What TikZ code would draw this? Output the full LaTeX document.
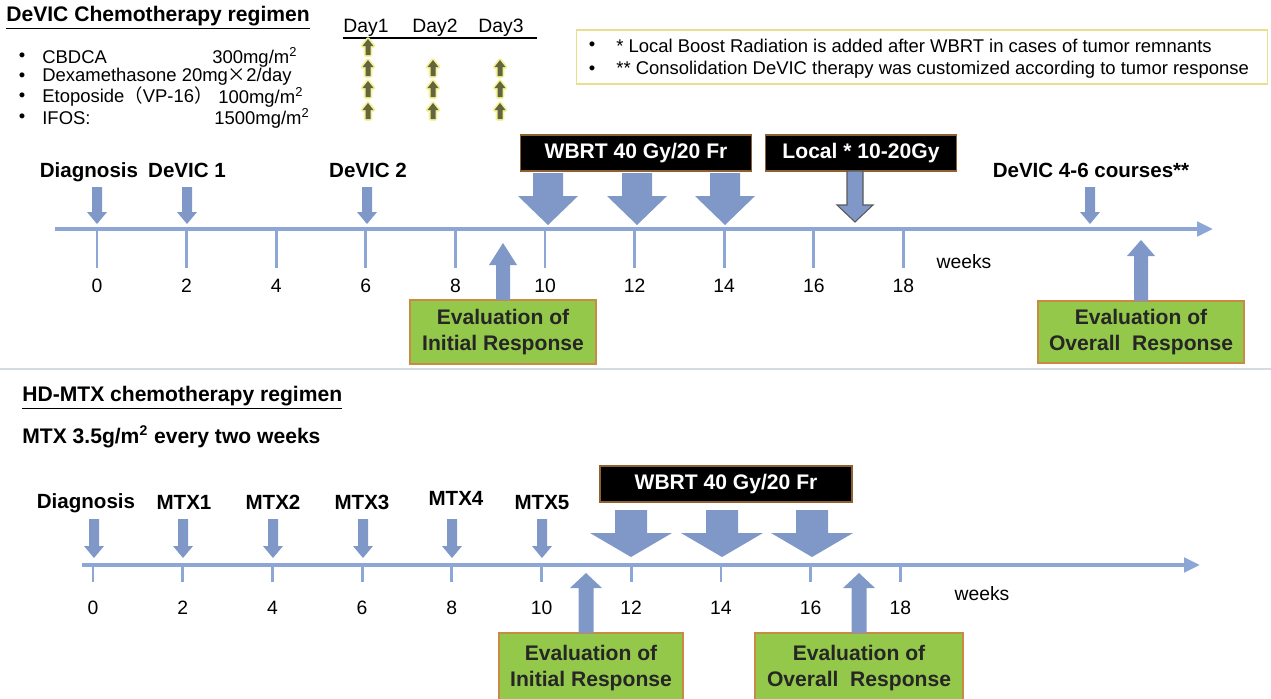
\documentclass[tikz,border=0pt]{standalone}
\usepackage{fontspec}
\setmainfont{Liberation Sans}
\newfontfamily\cjk{Noto Sans CJK SC}
\usetikzlibrary{arrows.meta}
\definecolor{ArrowBlue}{HTML}{7F98C8}
\definecolor{AxisBlue}{HTML}{8CA6D6}
\definecolor{EvalGreen}{HTML}{93C84A}
\definecolor{EvalEdge}{HTML}{C98A45}
\definecolor{NoteEdge}{HTML}{E8DE8C}
\definecolor{DayOlive}{HTML}{63653E}
\definecolor{DayGlow}{HTML}{F4F29A}
\definecolor{RuleGray}{HTML}{D5DBE3}

% block arrow: [style]{x}{base y}{head y}{tip y}{half shaft}{half head}
\newcommand{\BlockArrow}[7][]{%
  \path[fill=ArrowBlue,#1] (#2-#6,#3) -- (#2+#6,#3) -- (#2+#6,#4) -- (#2+#7,#4)
    -- (#2,#5) -- (#2-#7,#4) -- (#2-#6,#4) -- cycle;}
\newcommand{\DayArrow}[2]{%
  \BlockArrow[draw=DayGlow,line width=2pt,line join=round,fill=DayGlow]{#1}{#2+8}{#2-1}{#2-8}{2.5}{5.5}
  \BlockArrow[fill=DayOlive]{#1}{#2+8}{#2-1}{#2-8}{2.5}{5.5}}

\tikzset{
  boxsize/.style 2 args={minimum width=#1*0.02cm, minimum height=#2*0.02cm},
  lbl/.style={anchor=base, font=\fontsize{11.7}{14}\selectfont\bfseries},
  num/.style={font=\fontsize{11}{13}\selectfont},
  item/.style={inner sep=0pt, font=\fontsize{10.5}{12}\selectfont},
  daylbl/.style={inner sep=0pt, font=\fontsize{11}{13}\selectfont},
  heading/.style={anchor=west, inner sep=0pt, font=\fontsize{12}{14}\selectfont\bfseries},
  evalbox/.style={draw=EvalEdge, fill=EvalGreen, line width=0.8pt, align=center,
    text=black!85, font=\fontsize{12}{14.5}\selectfont\bfseries},
  blackbox/.style={draw=EvalEdge!70!black, fill=black, line width=0.8pt, text=white,
    font=\fontsize{12}{14}\selectfont\bfseries},
  axis/.style={AxisBlue, line width=2.3pt, -{Triangle[length=9pt,width=8pt]}},
  axtick/.style={AxisBlue, line width=1.6pt}
}

\begin{document}
\begin{tikzpicture}[x=0.02cm, y=-0.02cm]
  \useasboundingbox (0,0) rectangle (1271,698);

  % DeVIC regimen
  \node[heading] (devicTitle) at (6,18) {\underline{DeVIC Chemotherapy regimen}};
  \node[item] (bul1) at (22,57) {•};
  \node[item] (bul2) at (22,77) {•};
  \node[item] (bul3) at (22,97) {•};
  \node[item] (bul4) at (22,118) {•};
  \node[item, anchor=west] (drug1) at (42,57) {CBDCA};
  \node[item, anchor=west] (dose1) at (212,57) {300mg/m\textsuperscript{2}};
  \node[item, anchor=west] (drug2) at (42,77) {Dexamethasone 20mg{\cjk ×}2/day};
  \node[item, anchor=west] (drug3) at (42,97) {Etoposide{\cjk （}VP-16{\cjk ）}};
  \node[item, anchor=west] (dose3) at (218,97) {100mg/m\textsuperscript{2}};
  \node[item, anchor=west] (drug4) at (42,118) {IFOS:};
  \node[item, anchor=west] (dose4) at (214,118) {1500mg/m\textsuperscript{2}};

  \node[daylbl] (day1) at (366,28) {Day1};
  \node[daylbl] (day2) at (435,28) {Day2};
  \node[daylbl] (day3) at (501,28) {Day3};
  \draw[line width=1.6pt] (343,38) -- (537,38);
  \DayArrow{368}{47}
  \DayArrow{368}{68} \DayArrow{433}{68} \DayArrow{500}{68}
  \DayArrow{368}{89} \DayArrow{433}{89} \DayArrow{500}{89}
  \DayArrow{368}{111} \DayArrow{433}{111} \DayArrow{500}{111}

  % notes
  \node[draw=NoteEdge, line width=1pt, boxsize={691}{54}] (note) at (922,57) {};
  \node[item] (noteBul1) at (592,46) {•};
  \node[item, anchor=west] (note1) at (616,46) {* Local Boost Radiation is added after WBRT in cases of tumor remnants};
  \node[item] (noteBul2) at (592,70) {•};
  \node[item, anchor=west] (note2) at (616,70) {** Consolidation DeVIC therapy was customized according to tumor response};

  % upper timeline
  \draw[axis] (55,229) -- (1213,229);
  \foreach \w in {0,2,...,18} {
    \draw[axtick] (97+44.8*\w,229) -- (97+44.8*\w,268);
    \node[num] (tA\w) at (97+44.8*\w,286) {\w};
  }
  \node[num] (weeksA) at (964,262) {weeks};

  \node[lbl] (diagA) at (89,177) {Diagnosis};
  \node[lbl] (devic1) at (187,177) {DeVIC 1};
  \node[lbl] (devic2) at (368,177) {DeVIC 2};
  \node[lbl] (devic3) at (1091,177) {DeVIC 4-6 courses**};
  \BlockArrow{97}{187}{212}{224}{5}{10}
  \BlockArrow{187}{187}{212}{224}{5}{10}
  \BlockArrow{367}{187}{212}{224}{5}{10}
  \BlockArrow{1090}{187}{212}{224}{5}{10}

  \node[blackbox, boxsize={231}{36}] (wbrtA) at (636,153) {WBRT 40 Gy/20 Fr};
  \node[blackbox, boxsize={191}{36}] (localA) at (861,153) {Local * 10-20Gy};
  \BlockArrow{548}{173}{196}{225}{15}{30}
  \BlockArrow{637}{173}{196}{225}{15}{30}
  \BlockArrow{725}{173}{196}{225}{15}{30}
  \BlockArrow[draw=black!65, line width=0.6pt]{855}{171}{205}{222}{8}{18}

  \node[evalbox, boxsize={186}{64}] (evalA1) at (503,332) {Evaluation of\\Initial Response};
  \node[evalbox, boxsize={206}{62}] (evalA2) at (1141,332) {Evaluation of\\Overall\ \ Response};
  \BlockArrow{503}{300}{265}{243}{7}{14}
  \BlockArrow{1141}{301}{256}{240}{7}{14}

  \draw[RuleGray, line width=1.5pt] (0,369) -- (1271,369);

  % HD-MTX regimen
  \node[heading] (mtxTitle) at (22,398) {\underline{HD-MTX chemotherapy regimen}};
  \node[heading] (mtxDose) at (22,437) {MTX 3.5g/m\textsuperscript{2} every two weeks};

  % lower timeline
  \draw[axis] (82,565) -- (1200,565);
  \foreach \w in {0,2,...,18} {
    \draw[axtick] (93+44.85*\w,565) -- (93+44.85*\w,582);
    \node[num] (tB\w) at (93+44.85*\w,608) {\w};
  }
  \node[num] (weeksB) at (982,594) {weeks};

  \node[lbl] (diagB) at (86,508) {Diagnosis};
  \node[lbl] (mtx1) at (184,509) {MTX1};
  \node[lbl] (mtx2) at (273,509) {MTX2};
  \node[lbl] (mtx3) at (362,509) {MTX3};
  \node[lbl] (mtx4) at (456,505) {MTX4};
  \node[lbl] (mtx5) at (542,509) {MTX5};
  \foreach \x in {94,183,273,363,452,542}
    \BlockArrow{\x}{519}{546}{558}{5}{10};

  \node[blackbox, boxsize={252}{36}] (wbrtB) at (726,484) {WBRT 40 Gy/20 Fr};
  \BlockArrow{631}{510}{533}{557}{16}{41}
  \BlockArrow{722}{510}{533}{557}{16}{41}
  \BlockArrow{812}{510}{533}{557}{16}{41}

  \node[evalbox, boxsize={184}{70}] (evalB1) at (591,668) {Evaluation of\\Initial Response};
  \node[evalbox, boxsize={208}{70}] (evalB2) at (859,668) {Evaluation of\\Overall\ \ Response};
  \BlockArrow{586}{633}{588}{573}{7.5}{16}
  \BlockArrow{859}{633}{588}{573}{7.5}{16}
\end{tikzpicture}
\end{document}
